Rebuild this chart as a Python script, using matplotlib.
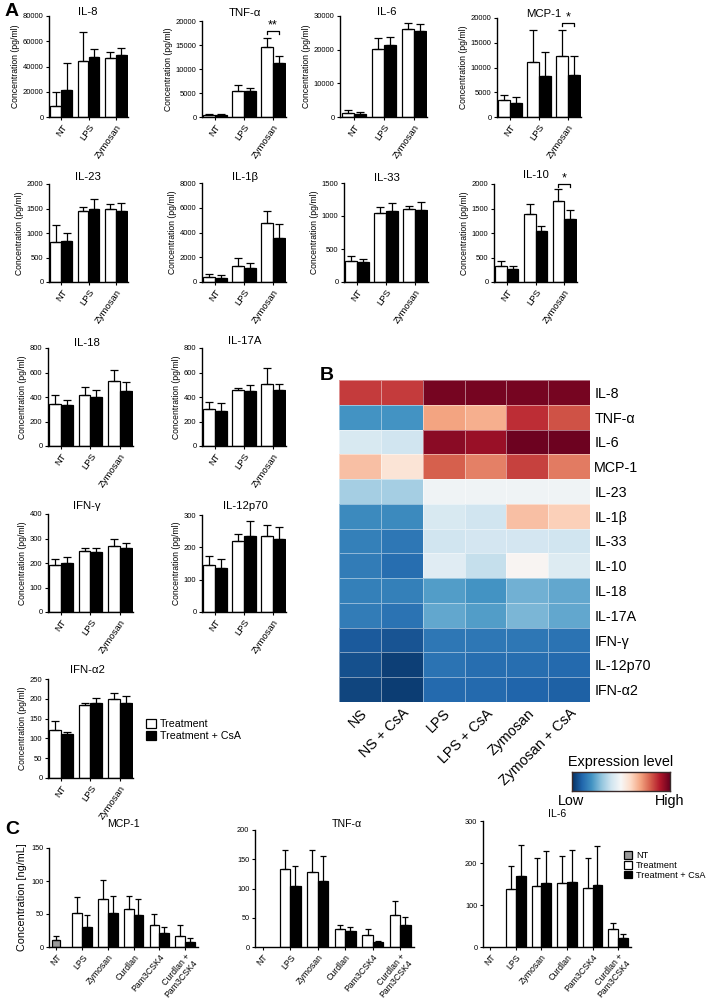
import numpy as np
import matplotlib.pyplot as plt
from matplotlib.patches import Patch

plt.rcParams['font.family'] = ['Liberation Sans', 'DejaVu Sans']
plt.rcParams['axes.linewidth'] = 1.0

# ---------------- panel A data (mean, error) ----------------
groups_a = ["NT", "LPS", "Zymosan"]

il8_trt, il8_trt_err = [9000, 44000, 47000], [10500, 23500, 4500]
il8_csa, il8_csa_err = [21000, 47500, 49000], [21500, 6500, 5500]
tnf_trt, tnf_trt_err = [400, 5500, 14600], [300, 1200, 1800]
tnf_csa, tnf_csa_err = [350, 5400, 11200], [250, 600, 1600]
il6_trt, il6_trt_err = [1200, 20300, 26000], [800, 3300, 2000]
il6_csa, il6_csa_err = [1000, 21500, 25400], [600, 2200, 2300]
mcp_trt, mcp_trt_err = [3500, 11100, 12400], [1000, 6400, 5200]
mcp_csa, mcp_csa_err = [2800, 8300, 8500], [1300, 4800, 3800]
il23_trt, il23_trt_err = [820, 1440, 1480], [340, 90, 120]
il23_csa, il23_csa_err = [840, 1480, 1450], [170, 210, 170]
il1b_trt, il1b_trt_err = [400, 1300, 4800], [250, 600, 950]
il1b_csa, il1b_csa_err = [350, 1100, 3550], [200, 450, 1150]
il33_trt, il33_trt_err = [320, 1040, 1100], [70, 90, 50]
il33_csa, il33_csa_err = [300, 1070, 1090], [50, 120, 120]
il10_trt, il10_trt_err = [320, 1380, 1650], [110, 220, 250]
il10_csa, il10_csa_err = [260, 1050, 1280], [70, 90, 190]
il18_trt, il18_trt_err = [340, 420, 530], [80, 60, 90]
il18_csa, il18_csa_err = [335, 400, 450], [40, 60, 75]
il17_trt, il17_trt_err = [300, 455, 510], [60, 15, 125]
il17_csa, il17_csa_err = [285, 445, 455], [65, 55, 55]
ifng_trt, ifng_trt_err = [190, 248, 268], [28, 15, 30]
ifng_csa, ifng_csa_err = [198, 243, 260], [27, 19, 20]
il12_trt, il12_trt_err = [145, 220, 235], [27, 20, 35]
il12_csa, il12_csa_err = [137, 235, 226], [28, 45, 36]
ifna_trt, ifna_trt_err = [120, 185, 200], [23, 5, 15]
ifna_csa, ifna_csa_err = [110, 190, 190], [7, 13, 17]

# ---------------- panel B data ----------------
heat_rows = ["IL-8", "TNF-α", "IL-6", "MCP-1", "IL-23", "IL-1β", "IL-33",
             "IL-10", "IL-18", "IL-17A", "IFN-γ", "IL-12p70", "IFN-α2"]
heat_cols = ["NS", "NS + CsA", "LPS", "LPS + CsA", "Zymosan", "Zymosan + CsA"]
heat_values = [
    [0.85, 0.85, 0.98, 0.98, 0.98, 0.98],
    [0.20, 0.20, 0.70, 0.68, 0.87, 0.82],
    [0.42, 0.40, 0.95, 0.93, 0.99, 0.99],
    [0.65, 0.57, 0.80, 0.75, 0.84, 0.76],
    [0.33, 0.33, 0.48, 0.48, 0.48, 0.48],
    [0.18, 0.18, 0.42, 0.40, 0.65, 0.62],
    [0.16, 0.14, 0.40, 0.41, 0.41, 0.40],
    [0.15, 0.12, 0.44, 0.38, 0.51, 0.43],
    [0.16, 0.16, 0.22, 0.20, 0.26, 0.24],
    [0.15, 0.13, 0.24, 0.22, 0.27, 0.24],
    [0.08, 0.07, 0.14, 0.14, 0.14, 0.13],
    [0.06, 0.03, 0.13, 0.12, 0.12, 0.11],
    [0.04, 0.025, 0.11, 0.11, 0.10, 0.09],
]

# ---------------- panel C data ----------------
groups_c = ["NT", "LPS", "Zymosan", "Curdlan", "Pam3CSK4", "Curdlan +\nPam3CSK4"]
c_mcp_nt, c_mcp_nt_err = 10, 6
c_mcp_trt, c_mcp_trt_err = [52, 73, 58, 33, 17], [24, 28, 19, 17, 17]
c_mcp_csa, c_mcp_csa_err = [30, 52, 49, 21, 7], [18, 25, 23, 10, 6]
c_tnf_nt, c_tnf_nt_err = 0, 0
c_tnf_trt, c_tnf_trt_err = [133, 129, 30, 20, 55], [32, 37, 8, 11, 23]
c_tnf_csa, c_tnf_csa_err = [105, 113, 27, 8, 38], [34, 42, 7, 3, 14]
c_il6_nt, c_il6_nt_err = 0, 0
c_il6_trt, c_il6_trt_err = [137, 145, 152, 140, 43], [55, 68, 65, 73, 15]
c_il6_csa, c_il6_csa_err = [168, 152, 155, 148, 21], [74, 77, 75, 93, 11]

W, H = 727, 1000


def rect(l, t, r, b):
    return [l / W, 1 - b / H, (r - l) / W, (b - t) / H]


def style_axes(ax, tick_fs, xtick_fs):
    ax.spines['top'].set_visible(False)
    ax.spines['right'].set_visible(False)
    ax.tick_params(direction='out', length=2.5, width=0.8, labelsize=tick_fs, pad=1.5)
    ax.tick_params(axis='x', labelsize=xtick_fs)


def err_up(ax, x, y, e, cs=2.8):
    ax.errorbar(x, y, yerr=[np.zeros(len(y)), e], fmt='none', ecolor='black',
                elinewidth=0.9, capsize=cs, capthick=0.9, zorder=3)


fig = plt.figure(figsize=(7.27, 10), dpi=100)

# ---------------- panel A ----------------
panels_a = [
    ("IL-8", il8_trt, il8_trt_err, il8_csa, il8_csa_err, 80000, 20000, (49, 16, 128, 117), (88, 12)),
    ("TNF-α", tnf_trt, tnf_trt_err, tnf_csa, tnf_csa_err, 20000, 5000, (202, 21, 286, 117), (245, 13)),
    ("IL-6", il6_trt, il6_trt_err, il6_csa, il6_csa_err, 30000, 10000, (340, 16, 427, 117), (387, 12)),
    ("MCP-1", mcp_trt, mcp_trt_err, mcp_csa, mcp_csa_err, 20000, 5000, (497, 18, 581, 117), (544, 14)),
    ("IL-23", il23_trt, il23_trt_err, il23_csa, il23_csa_err, 2000, 500, (49, 184, 128, 282), (88, 177)),
    ("IL-1β", il1b_trt, il1b_trt_err, il1b_csa, il1b_csa_err, 8000, 2000, (202, 183, 286, 282), (245, 177)),
    ("IL-33", il33_trt, il33_trt_err, il33_csa, il33_csa_err, 1500, 500, (344, 183, 428, 282), (387, 178)),
    ("IL-10", il10_trt, il10_trt_err, il10_csa, il10_csa_err, 2000, 500, (494, 184, 577, 282), (536, 175)),
    ("IL-18", il18_trt, il18_trt_err, il18_csa, il18_csa_err, 800, 200, (48, 348, 133, 446), (87, 343)),
    ("IL-17A", il17_trt, il17_trt_err, il17_csa, il17_csa_err, 800, 200, (202, 348, 286, 446), (245, 341)),
    ("IFN-γ", ifng_trt, ifng_trt_err, ifng_csa, ifng_csa_err, 400, 100, (48, 514, 133, 612), (87, 506)),
    ("IL-12p70", il12_trt, il12_trt_err, il12_csa, il12_csa_err, 300, 100, (202, 515, 286, 612), (245, 506)),
    ("IFN-α2", ifna_trt, ifna_trt_err, ifna_csa, ifna_csa_err, 250, 50, (48, 679, 133, 778), (87, 670)),
]

axes_a = {}
for title, trt, trt_e, csa, csa_e, ymax, step, box, txy in panels_a:
    ax = fig.add_axes(rect(*box))
    x = np.arange(len(groups_a))
    w = 0.4
    ax.bar(x - w / 2, trt, w, color='white', edgecolor='black', linewidth=0.9, zorder=2)
    ax.bar(x + w / 2, csa, w, color='black', edgecolor='black', linewidth=0.9, zorder=2)
    err_up(ax, x - w / 2, trt, trt_e)
    err_up(ax, x + w / 2, csa, csa_e)
    ax.set_xlim(-0.45, 2.45)
    ax.set_ylim(0, ymax)
    ax.set_yticks(np.arange(0, ymax + 1, step))
    ax.set_xticks(x)
    ax.set_xticklabels(groups_a, rotation=55, ha='right', rotation_mode='anchor')
    style_axes(ax, 5.5, 6.8)
    ax.set_ylabel("Concentration (pg/ml)", fontsize=6.2, labelpad=2)
    fig.text(txy[0] / W, 1 - txy[1] / H, title, ha='center', va='center', fontsize=8.2)
    axes_a[title] = ax


def bracket(ax, x0, x1, y, drop, stars, fs=9):
    ax.plot([x0, x0, x1, x1], [y - drop, y, y, y - drop], color='black', lw=0.9, clip_on=False)
    ax.text((x0 + x1) / 2, y, stars, ha='center', va='bottom', fontsize=fs, clip_on=False)


bracket(axes_a["TNF-α"], 1.8, 2.2, 17900, 600, "**")
bracket(axes_a["MCP-1"], 1.8, 2.2, 19000, 600, "*")
bracket(axes_a["IL-10"], 1.8, 2.2, 2000, 60, "*")

fig.legend([Patch(facecolor='white', edgecolor='black', linewidth=0.9),
            Patch(facecolor='black', edgecolor='black', linewidth=0.9)],
           ["Treatment", "Treatment + CsA"],
           loc='upper left', bbox_to_anchor=(146 / W, 1 - 719 / H), frameon=False,
           fontsize=7.7, handlelength=0.9, handleheight=0.9, handletextpad=0.4,
           labelspacing=0.15, borderpad=0, borderaxespad=0)

# ---------------- panel B ----------------
axh = fig.add_axes(rect(339, 380, 590, 702))
hv = np.array(heat_values)
axh.pcolormesh(hv, cmap='RdBu_r', vmin=0, vmax=1,
               edgecolors=(1, 1, 1, 0.45), linewidth=0.6)
axh.set_xlim(0, len(heat_cols))
axh.set_ylim(len(heat_rows), 0)
axh.set_yticks(np.arange(len(heat_rows)) + 0.5)
axh.set_yticklabels(heat_rows, fontsize=10.3)
axh.yaxis.tick_right()
axh.set_xticks(np.arange(len(heat_cols)) + 0.5)
axh.set_xticklabels(heat_cols, rotation=45, ha='right', rotation_mode='anchor', fontsize=10.3)
axh.tick_params(length=0, pad=3)
for s in axh.spines.values():
    s.set_visible(False)

axc = fig.add_axes(rect(572, 772, 670, 791))
axc.imshow(np.linspace(0, 1, 256)[None, :], cmap='RdBu_r', aspect='auto')
axc.set_xticks([])
axc.set_yticks([])
for s in axc.spines.values():
    s.set_color('#3a2a2a')
    s.set_linewidth(1.0)
fig.text(621 / W, 1 - 762 / H, "Expression level", ha='center', va='center', fontsize=10.4)
fig.text(571 / W, 1 - 801 / H, "Low", ha='center', va='center', fontsize=10.4)
fig.text(684 / W, 1 - 801 / H, "High", ha='right', va='center', fontsize=10.4)

# ---------------- panel C ----------------
panels_c = [
    ("MCP-1", c_mcp_nt, c_mcp_nt_err, c_mcp_trt, c_mcp_trt_err, c_mcp_csa, c_mcp_csa_err,
     150, 50, (49, 848, 198, 947), (123, 824)),
    ("TNF-α", c_tnf_nt, c_tnf_nt_err, c_tnf_trt, c_tnf_trt_err, c_tnf_csa, c_tnf_csa_err,
     200, 50, (255, 830, 414, 947), (347, 824)),
    ("IL-6", c_il6_nt, c_il6_nt_err, c_il6_trt, c_il6_trt_err, c_il6_csa, c_il6_csa_err,
     300, 100, (483, 821, 631, 947), (557, 814)),
]

for i, (title, nt, nt_e, trt, trt_e, csa, csa_e, ymax, step, box, txy) in enumerate(panels_c):
    ax = fig.add_axes(rect(*box))
    w = 0.38
    xg = np.arange(1, len(groups_c))
    if nt > 0:
        ax.bar([0], [nt], 0.32, color='#9a9a9a', edgecolor='black', linewidth=0.9, zorder=2)
        err_up(ax, [0], [nt], [nt_e], cs=2.5)
    ax.bar(xg - w / 2, trt, w, color='white', edgecolor='black', linewidth=0.9, zorder=2)
    ax.bar(xg + w / 2, csa, w, color='black', edgecolor='black', linewidth=0.9, zorder=2)
    err_up(ax, xg - w / 2, trt, trt_e, cs=2.5)
    err_up(ax, xg + w / 2, csa, csa_e, cs=2.5)
    ax.set_xlim(-0.28, 5.5)
    ax.set_ylim(0, ymax)
    ax.set_yticks(np.arange(0, ymax + 1, step))
    ax.set_xticks(np.arange(len(groups_c)))
    ax.set_xticklabels(groups_c, rotation=50, ha='right', rotation_mode='anchor',
                       linespacing=1.0)
    style_axes(ax, 5.3, 6.3)
    if i == 0:
        ax.set_ylabel("Concentration [ng/mL]", fontsize=7.8, labelpad=3)
    fig.text(txy[0] / W, 1 - txy[1] / H, title, ha='center', va='center', fontsize=7.6)

fig.legend([Patch(facecolor='#9a9a9a', edgecolor='black', linewidth=0.9),
            Patch(facecolor='white', edgecolor='black', linewidth=0.9),
            Patch(facecolor='black', edgecolor='black', linewidth=0.9)],
           ["NT", "Treatment", "Treatment + CsA"],
           loc='upper left', bbox_to_anchor=(624 / W, 1 - 851 / H), frameon=False,
           fontsize=6.6, handlelength=0.9, handleheight=0.9, handletextpad=0.4,
           labelspacing=0.1, borderpad=0, borderaxespad=0)

# ---------------- panel letters ----------------
fig.text(5 / W, 1 - 12 / H, "A", fontsize=14, fontweight='bold', va='center')
fig.text(320 / W, 1 - 375 / H, "B", fontsize=14, fontweight='bold', va='center')
fig.text(5 / W, 1 - 830 / H, "C", fontsize=14, fontweight='bold', va='center')

fig.savefig("out.png", dpi=100)
